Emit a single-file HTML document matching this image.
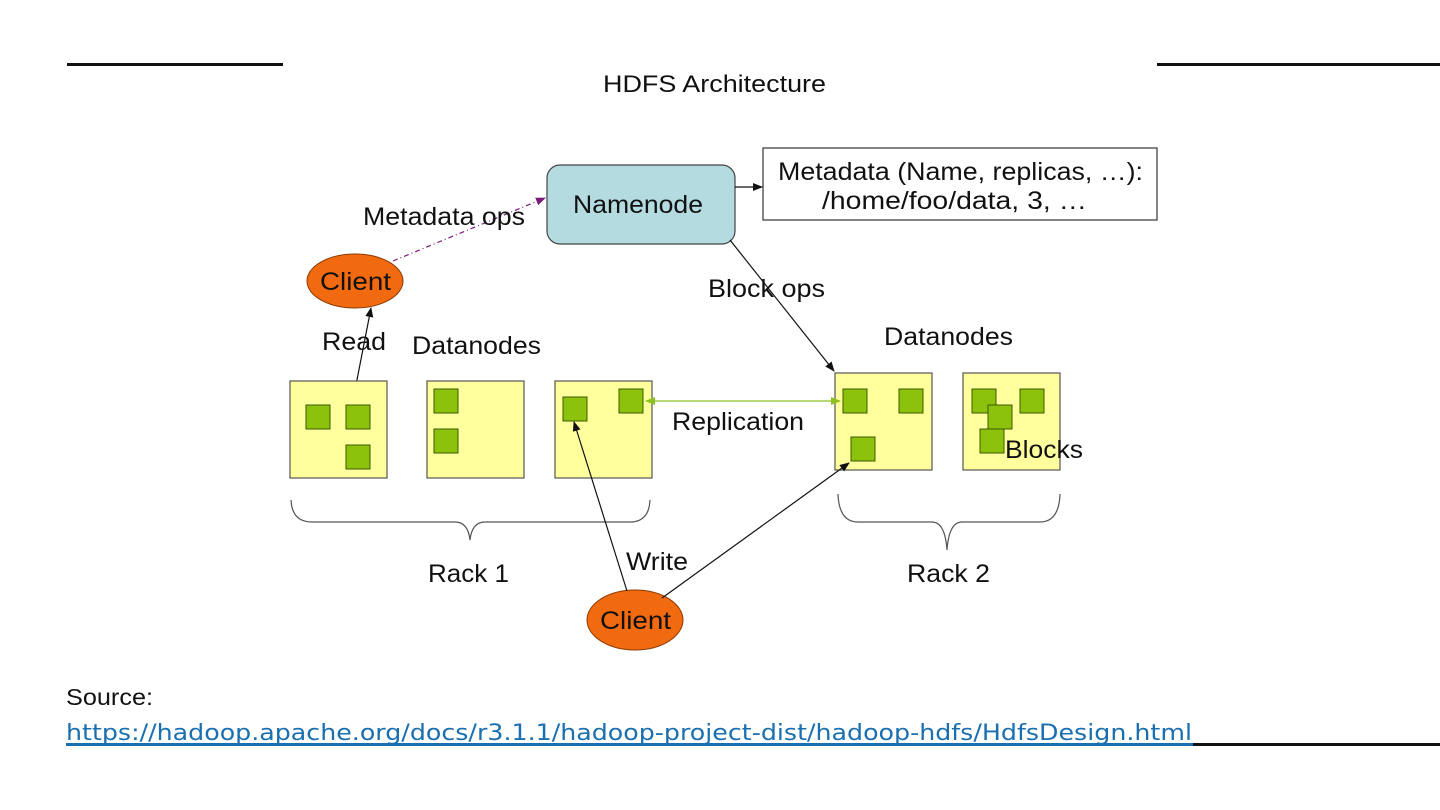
<!DOCTYPE html>
<html><head><meta charset="utf-8"><style>
html,body{margin:0;padding:0;background:#fff;}
svg{display:block;}
text{font-family:"Liberation Sans",Arial,sans-serif;fill:#111;}
</style></head><body>
<svg width="1440" height="810" viewBox="0 0 1440 810" xmlns="http://www.w3.org/2000/svg">
<defs>
<marker id="ab" markerWidth="10" markerHeight="8" refX="9" refY="4" orient="auto" markerUnits="userSpaceOnUse"><path d="M0,0 L10,4 L0,8 z" fill="#111"/></marker>
<marker id="ap" markerWidth="10" markerHeight="8" refX="9" refY="4" orient="auto" markerUnits="userSpaceOnUse"><path d="M0,0 L10,4 L0,8 z" fill="#7a1a7a"/></marker>
<marker id="ag" markerWidth="10" markerHeight="8" refX="9" refY="4" orient="auto-start-reverse" markerUnits="userSpaceOnUse"><path d="M0,0 L10,4 L0,8 z" fill="#8cc020"/></marker>
</defs>
<rect x="67" y="63" width="216" height="3" fill="#111"/>
<rect x="1157" y="63" width="283" height="3" fill="#111"/>
<text x="603" y="92" font-size="24" textLength="223" lengthAdjust="spacingAndGlyphs">HDFS Architecture</text>

<rect x="547" y="165" width="188" height="79" rx="13" fill="#b3dbe0" stroke="#444" stroke-width="1.2"/>
<text x="573" y="213" font-size="25" textLength="130" lengthAdjust="spacingAndGlyphs">Namenode</text>
<rect x="763" y="148" width="394" height="72" fill="#fff" stroke="#333" stroke-width="1.2"/>
<text x="778" y="180" font-size="25" textLength="365" lengthAdjust="spacingAndGlyphs">Metadata (Name, replicas, …):</text>
<text x="822" y="209" font-size="25" textLength="265" lengthAdjust="spacingAndGlyphs">/home/foo/data, 3, …</text>
<line x1="735" y1="187" x2="762" y2="187" stroke="#111" stroke-width="1.2" marker-end="url(#ab)"/>

<ellipse cx="355" cy="281" rx="48" ry="27" fill="#f26a10" stroke="#8a3a00" stroke-width="1"/>
<text x="320" y="290" font-size="25" textLength="71" lengthAdjust="spacingAndGlyphs">Client</text>
<line x1="393" y1="261" x2="545" y2="198" stroke="#7a1a7a" stroke-width="1.2" stroke-dasharray="5,3,1,3" marker-end="url(#ap)"/>
<text x="363" y="225" font-size="25" textLength="162" lengthAdjust="spacingAndGlyphs">Metadata ops</text>
<line x1="355" y1="390" x2="371" y2="308" stroke="#111" stroke-width="1.2" marker-end="url(#ab)"/>
<text x="322" y="350" font-size="25" textLength="64" lengthAdjust="spacingAndGlyphs">Read</text>
<text x="412" y="354" font-size="25" textLength="129" lengthAdjust="spacingAndGlyphs">Datanodes</text>

<g fill="#ffff9e" stroke="#555" stroke-width="1.2">
<rect x="290" y="381" width="97" height="97"/>
<rect x="427" y="381" width="97" height="97"/>
<rect x="555" y="381" width="97" height="97"/>
<rect x="835" y="373" width="97" height="97"/>
<rect x="963" y="373" width="97" height="97"/>
</g>
<g fill="#8cc20c" stroke="#3a5a00" stroke-width="1">
<rect x="306" y="405" width="24" height="24"/>
<rect x="346" y="405" width="24" height="24"/>
<rect x="346" y="445" width="24" height="24"/>
<rect x="434" y="389" width="24" height="24"/>
<rect x="434" y="429" width="24" height="24"/>
<rect x="563" y="397" width="24" height="24"/>
<rect x="619" y="389" width="24" height="24"/>
<rect x="843" y="389" width="24" height="24"/>
<rect x="899" y="389" width="24" height="24"/>
<rect x="851" y="437" width="24" height="24"/>
<rect x="972" y="389" width="24" height="24"/>
<rect x="1020" y="389" width="24" height="24"/>
<rect x="988" y="405" width="24" height="24"/>
<rect x="980" y="429" width="24" height="24"/>
</g>
<text x="1005" y="458" font-size="25" textLength="78" lengthAdjust="spacingAndGlyphs">Blocks</text>

<line x1="730" y1="240" x2="834" y2="371" stroke="#111" stroke-width="1.2" marker-end="url(#ab)"/>
<text x="708" y="297" font-size="25" textLength="117" lengthAdjust="spacingAndGlyphs">Block ops</text>
<text x="884" y="345" font-size="25" textLength="129" lengthAdjust="spacingAndGlyphs">Datanodes</text>
<line x1="646" y1="401" x2="840" y2="401" stroke="#8cc020" stroke-width="1.3" marker-start="url(#ag)" marker-end="url(#ag)"/>
<text x="672" y="430" font-size="25" textLength="132" lengthAdjust="spacingAndGlyphs">Replication</text>

<path d="M291,500 Q292,522 312,522 L455,522 Q468,522 470,540 Q472,522 485,522 L630,522 Q649,522 650,500" fill="none" stroke="#555" stroke-width="1.2"/>
<path d="M838,494 Q839,522 858,522 L932,522 Q945,522 947,550 Q949,522 962,522 L1040,522 Q1059,522 1060,494" fill="none" stroke="#555" stroke-width="1.2"/>
<text x="428" y="582" font-size="25" textLength="81" lengthAdjust="spacingAndGlyphs">Rack 1</text>
<text x="907" y="582" font-size="25" textLength="83" lengthAdjust="spacingAndGlyphs">Rack 2</text>

<ellipse cx="635" cy="620" rx="48" ry="30" fill="#f26a10" stroke="#8a3a00" stroke-width="1"/>
<text x="600" y="629" font-size="25" textLength="71" lengthAdjust="spacingAndGlyphs">Client</text>
<line x1="627" y1="591" x2="574" y2="422" stroke="#111" stroke-width="1.2" marker-end="url(#ab)"/>
<line x1="662" y1="598" x2="849" y2="463" stroke="#111" stroke-width="1.2" marker-end="url(#ab)"/>
<text x="626" y="570" font-size="25" textLength="62" lengthAdjust="spacingAndGlyphs">Write</text>

<text x="66" y="705" font-size="23" textLength="87" lengthAdjust="spacingAndGlyphs">Source:</text>
<text x="66" y="740" font-size="22" style="font-family:'DejaVu Sans',sans-serif;fill:#1a6fb0" textLength="1126" lengthAdjust="spacingAndGlyphs">https://hadoop.apache.org/docs/r3.1.1/hadoop-project-dist/hadoop-hdfs/HdfsDesign.html</text>
<rect x="66" y="743" width="1127" height="3" fill="#1a6fb0"/>
<rect x="1193" y="743" width="247" height="3" fill="#111"/>
</svg>
</body></html>
